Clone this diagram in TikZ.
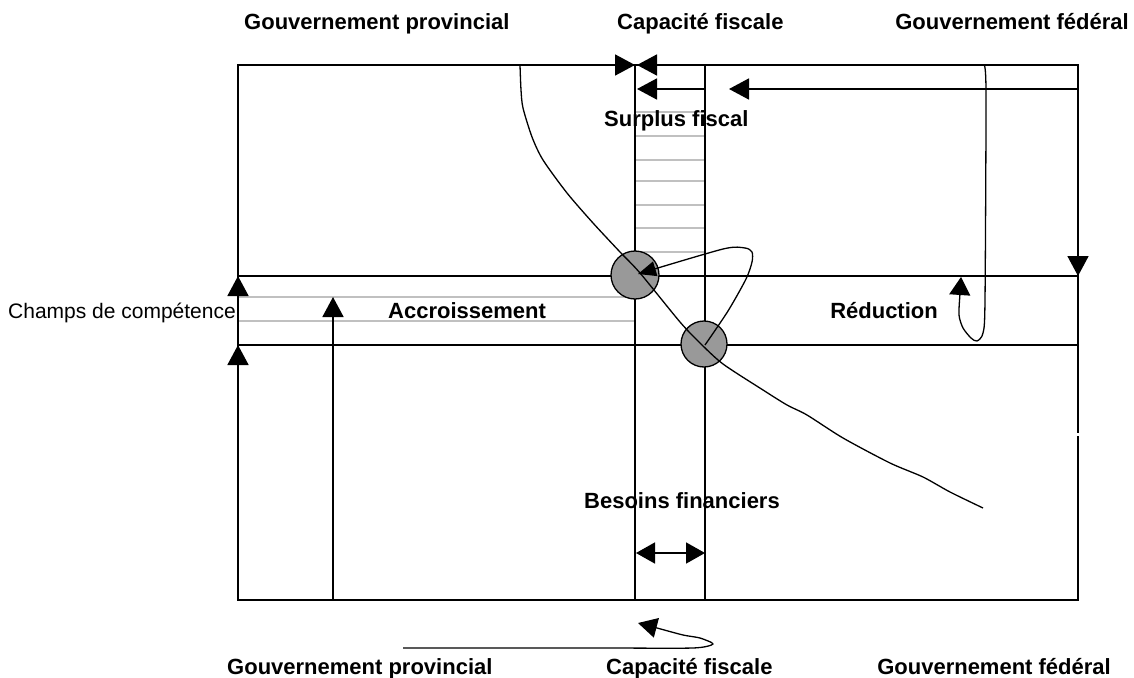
\documentclass[tikz,border=0pt]{standalone}
\usepackage{fontspec}
\setmainfont{Liberation Sans}
\usetikzlibrary{arrows.meta}
\definecolor{circfill}{HTML}{999999}
\definecolor{lightline}{HTML}{C0C0C0}
\begin{document}
\begin{tikzpicture}[x=1pt,y=-1pt,
  frame/.style={line width=1.7pt},
  curve/.style={line width=1.3pt, line join=round},
  grayline/.style={draw=lightline, line width=1.6pt},
  bigtip/.style={-{Triangle[length=20pt,width=21pt]}},
  smalltip/.style={-{Triangle[length=18pt,width=15pt]}},
  lab/.style={font=\bfseries\fontsize{22}{26}\selectfont, inner sep=0pt},
  reglab/.style={font=\fontsize{21}{25}\selectfont, inner sep=0pt},
  disc/.style={circle, draw, line width=1.3pt, fill=circfill, inner sep=0pt}
]
\useasboundingbox (0,0) rectangle (1134,677);

% gray hatching lines
\foreach \yy in {112,136,160,181,205,228,252}
  \draw[grayline] (635,\yy) -- (705,\yy);
\draw[grayline] (238,297) -- (635,297);
\draw[grayline] (238,321) -- (635,321);

% frame
\coordinate (TL) at (238,65);
\coordinate (BR) at (1078,600);
\draw[frame] (TL) rectangle (BR);
\draw[frame] (238,276) -- (1078,276);
\draw[frame] (238,345) -- (1078,345);
\draw[frame] (635,65) -- (635,600);
\draw[frame] (705,65) -- (705,600);
\fill[white] (1075,433) rectangle (1081,436);

% circles
\node[disc, minimum size=48pt] (c1) at (635,275) {};
\node[disc, minimum size=46pt] (c2) at (704,344) {};

% top arrows
\coordinate (capL) at (635,65);
\coordinate (capR) at (637,65);
\draw[frame, bigtip] (595,65) -- (capL);
\draw[frame, bigtip] (680,65) -- (capR);
\coordinate (a2s) at (705,89);
\coordinate (a2e) at (637,89);
\draw[frame, bigtip] (a2s) -- (a2e);
\coordinate (a3s) at (1078,89);
\coordinate (a3e) at (729,89);
\draw[frame, bigtip] (a3s) -- (a3e);

% left arrows
\draw[frame, bigtip] (238,600) -- (238,345);
\draw[frame, bigtip] (238,345) -- (238,276);
\coordinate (accS) at (333,600);
\coordinate (accE) at (333,297);
\draw[frame, bigtip] (accS) -- (accE);

% right down arrow
\draw[frame, bigtip] (1078,220) -- (1078,276);

% bottom double arrow
\coordinate (bL) at (636,553);
\coordinate (bR) at (705,553);
\draw[frame, {Triangle[length=19pt,width=21pt]}-{Triangle[length=19pt,width=21pt]}] (bL) -- (bR);

% main curve
\draw[curve] plot[smooth, tension=0.45] coordinates {(520,65) (521,90) (523,108) (532,137) (543,160) (567,193) (593,223) (620,252) (640,273) (680,322) (700,343) (723,364) (763,390) (787,405) (807,415) (843,438) (890,463) (923,477) (950,492) (983,508)};

% loop arrow between circles
\draw[curve, smalltip] plot[smooth, tension=0.45] coordinates {(705,345) (728,311) (746,279) (752,262) (752,252) (745,248) (723,249) (638,274)};

% reduction loop arrow
\draw[curve, -{Triangle[length=18pt,width=21pt]}] plot[smooth, tension=0.45] coordinates {(984,65) (986,92) (985,300) (983,333) (977,341) (971,338) (963,328) (959,315) (960,293) (961,277)};

% bottom loop arrow
\draw[curve, -{Triangle[length=19pt,width=20pt]}] plot[smooth, tension=0.4] coordinates {(403,648) (600,648) (693,648) (713,644) (700,638) (683,635) (657,628) (638,623)};

% labels
\node[lab, anchor=base west] (tgp) at (244,30) {Gouvernement provincial};
\node[lab, anchor=base west] (tcf) at (617,30) {Capacité fiscale};
\node[lab, anchor=base east] (tgf) at (1129,30) {Gouvernement fédéral};
\node[lab, anchor=base west] (bgp) at (227,674) {Gouvernement provincial};
\node[lab, anchor=base west] (bcf) at (606,674) {Capacité fiscale};
\node[lab, anchor=base east] (bgf) at (1111,674) {Gouvernement fédéral};
\node[lab, anchor=base west] (sf) at (604,126) {Surplus fiscal};
\node[lab, anchor=base west] (acc) at (388,318) {Accroissement};
\node[lab, anchor=base east] (red) at (938,318) {Réduction};
\node[lab, anchor=base east] (bf) at (780,508) {Besoins financiers};
\node[reglab, anchor=base east] (cc) at (236,318) {Champs de compétence};
\end{tikzpicture}
\end{document}
